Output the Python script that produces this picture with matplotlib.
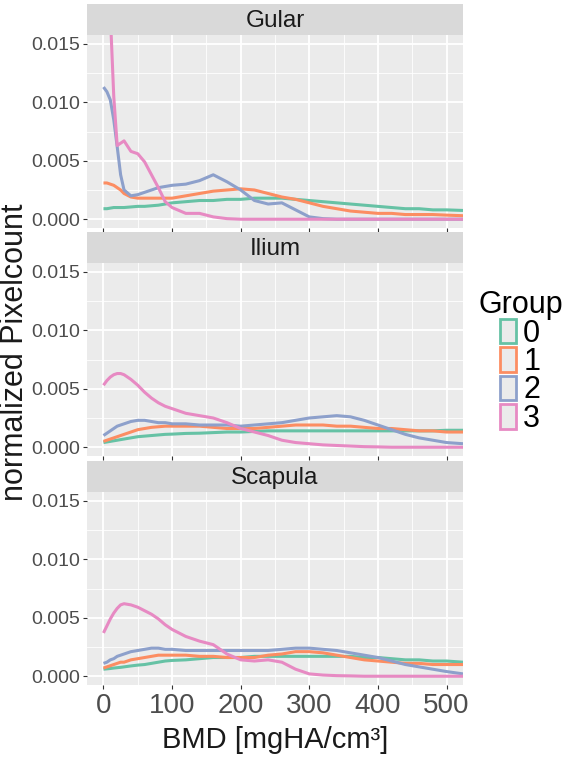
import numpy as np
import matplotlib.pyplot as plt
from matplotlib.patches import Patch

plt.rcParams['font.family'] = ['Liberation Sans', 'DejaVu Sans']

bmd = [0, 5, 10, 15, 20, 25, 30, 40, 50, 60, 70, 80, 90, 100, 120, 140, 160, 180,
       200, 220, 240, 260, 280, 300, 320, 340, 360, 380, 400, 420, 440, 460, 480, 500, 524]

bones = ['Gular', 'Ilium', 'Scapula']
groups = ['0', '1', '2', '3']
colors = ['#66C2A5', '#FC8D62', '#8DA0CB', '#E78AC3']

gular_0 = [0.0009, 0.0009, 0.00095, 0.001, 0.001, 0.001, 0.001, 0.00105, 0.0011, 0.0011, 0.00115, 0.0012,
           0.0013, 0.0014, 0.0015, 0.0016, 0.0016, 0.0017, 0.0017, 0.0018, 0.0018, 0.0018, 0.0017, 0.0016,
           0.0015, 0.0014, 0.0013, 0.0012, 0.0011, 0.001, 0.0009, 0.0009, 0.0008, 0.0008, 0.00075]
gular_1 = [0.0031, 0.0031, 0.003, 0.0029, 0.0027, 0.0025, 0.0022, 0.0019, 0.0018, 0.0018, 0.0018, 0.0018,
           0.0018, 0.0018, 0.002, 0.0022, 0.0024, 0.0025, 0.0026, 0.0025, 0.0022, 0.0019, 0.0017, 0.0014,
           0.0011, 0.0009, 0.0007, 0.0006, 0.0005, 0.0005, 0.0004, 0.0004, 0.0004, 0.00035, 0.0003]
gular_2 = [0.0113, 0.0109, 0.0102, 0.0085, 0.0062, 0.0038, 0.0025, 0.002, 0.0021, 0.0023, 0.0025, 0.0027,
           0.0028, 0.0029, 0.003, 0.0033, 0.0038, 0.0032, 0.0025, 0.0016, 0.0013, 0.0014, 0.0008, 0.0002,
           0.00005, 0.0, 0.0, 0.0, 0.0, 0.0, 0.0, 0.0, 0.0, 0.0, 0.0]
gular_3 = [0.030, 0.024, 0.0175, 0.0105, 0.0063, 0.0065, 0.0067, 0.0058, 0.0056, 0.0049, 0.0038, 0.0027,
           0.0015, 0.001, 0.0005, 0.0005, 0.0002, 0.00005, 0.0, 0.0, 0.0, 0.0, 0.0, 0.0,
           0.0, 0.0, 0.0, 0.0, 0.0, 0.0, 0.0, 0.0, 0.0, 0.0, 0.0]

ilium_0 = [0.0004, 0.00045, 0.0005, 0.00055, 0.0006, 0.00065, 0.0007, 0.0008, 0.0009, 0.00095, 0.001, 0.00105,
           0.0011, 0.00112, 0.00118, 0.0012, 0.00125, 0.0013, 0.0013, 0.00135, 0.0014, 0.0014, 0.0014, 0.0014,
           0.0014, 0.0014, 0.0014, 0.0014, 0.0014, 0.0014, 0.0014, 0.0014, 0.0014, 0.00145, 0.00145]
ilium_1 = [0.0005, 0.0006, 0.0007, 0.0008, 0.0009, 0.001, 0.0011, 0.0013, 0.0015, 0.0016, 0.0017, 0.00175,
           0.0018, 0.0018, 0.0018, 0.0018, 0.0017, 0.0016, 0.0016, 0.0016, 0.0017, 0.0018, 0.0019, 0.0019,
           0.0019, 0.0018, 0.0018, 0.0017, 0.0016, 0.0016, 0.0015, 0.0014, 0.0014, 0.0013, 0.0013]
ilium_2 = [0.001, 0.0012, 0.0014, 0.0016, 0.0018, 0.0019, 0.002, 0.0022, 0.0023, 0.0023, 0.0022, 0.0021,
           0.0021, 0.002, 0.002, 0.0019, 0.0019, 0.0019, 0.0018, 0.0019, 0.002, 0.0021, 0.0023, 0.0025,
           0.0026, 0.0027, 0.0026, 0.0023, 0.0019, 0.0015, 0.0011, 0.0008, 0.0006, 0.0004, 0.0003]
ilium_3 = [0.0053, 0.0057, 0.006, 0.0062, 0.0063, 0.0063, 0.0062, 0.0058, 0.0053, 0.0047, 0.0042, 0.0038,
           0.0035, 0.0033, 0.0029, 0.0027, 0.0025, 0.0021, 0.0016, 0.0013, 0.001, 0.0006, 0.0004, 0.0003,
           0.0002, 0.00015, 0.0001, 0.00005, 0.00003, 0.0, 0.0, 0.0, 0.0, 0.0, 0.0]

scapula_0 = [0.0006, 0.00063, 0.00066, 0.0007, 0.00073, 0.00076, 0.0008, 0.00088, 0.00095, 0.001, 0.0011, 0.0012,
             0.0013, 0.00135, 0.0014, 0.0015, 0.0016, 0.0016, 0.0016, 0.0017, 0.0017, 0.0017, 0.0017, 0.0017,
             0.0017, 0.0017, 0.0017, 0.0016, 0.0016, 0.0015, 0.0014, 0.0014, 0.0013, 0.0013, 0.0012]
scapula_1 = [0.0007, 0.0008, 0.0009, 0.001, 0.0011, 0.0012, 0.0012, 0.0014, 0.0015, 0.0016, 0.0017, 0.0018,
             0.0018, 0.0018, 0.0018, 0.0017, 0.0017, 0.0016, 0.0016, 0.0016, 0.0018, 0.0019, 0.0021, 0.0021,
             0.002, 0.0018, 0.0016, 0.0014, 0.0013, 0.0012, 0.0011, 0.0011, 0.001, 0.001, 0.001]
scapula_2 = [0.0011, 0.0012, 0.0014, 0.0015, 0.0017, 0.0018, 0.0019, 0.0021, 0.0022, 0.0023, 0.0024, 0.0024,
             0.0023, 0.0023, 0.0022, 0.0022, 0.0022, 0.0022, 0.0022, 0.0022, 0.0022, 0.0023, 0.0024, 0.0024,
             0.0023, 0.0022, 0.002, 0.0018, 0.0016, 0.0013, 0.001, 0.0008, 0.0006, 0.0004, 0.0002]
scapula_3 = [0.0037, 0.0043, 0.0049, 0.0054, 0.0058, 0.0061, 0.0062, 0.0061, 0.0059, 0.0056, 0.0053, 0.0049,
             0.0044, 0.004, 0.0034, 0.003, 0.0027, 0.0019, 0.0014, 0.0013, 0.0014, 0.0012, 0.0006, 0.0002,
             0.0001, 0.00005, 0.00003, 0.0, 0.0, 0.0, 0.0, 0.0, 0.0, 0.0, 0.0]

curves = {
    'Gular': [gular_0, gular_1, gular_2, gular_3],
    'Ilium': [ilium_0, ilium_1, ilium_2, ilium_3],
    'Scapula': [scapula_0, scapula_1, scapula_2, scapula_3],
}

W, H = 567, 757
fig = plt.figure(figsize=(W / 100, H / 100), dpi=100)

left, right = 87, 463
panel_tops = [35, 263, 492]
panel_h = 193
strip_h = 31

for i, bone in enumerate(bones):
    top = panel_tops[i]
    ax = fig.add_axes([left / W, 1 - (top + panel_h) / H, (right - left) / W, panel_h / H])
    ax.set_facecolor('#EBEBEB')
    for s in ax.spines.values():
        s.set_visible(False)
    for g, col in enumerate(colors):
        ax.plot(bmd, curves[bone][g], color=col, lw=2.2, solid_capstyle='butt')
    ax.set_xlim(-24, 524)
    ax.set_ylim(-0.00075, 0.01575)
    ax.set_xticks([0, 100, 200, 300, 400, 500])
    ax.set_xticks([50, 150, 250, 350, 450], minor=True)
    ax.set_yticks([0, 0.005, 0.010, 0.015])
    ax.set_yticks([0.0025, 0.0075, 0.0125], minor=True)
    ax.set_yticklabels(['0.000', '0.005', '0.010', '0.015'])
    ax.grid(which='major', color='white', lw=1.3)
    ax.grid(which='minor', color='white', lw=0.6)
    ax.set_axisbelow(True)
    ax.tick_params(which='major', length=3, width=0.8, color='#333333',
                   labelcolor='#4D4D4D', labelsize=14, pad=2)
    ax.tick_params(which='minor', length=0)
    if i < 2:
        ax.tick_params(axis='x', labelbottom=False)
    else:
        ax.tick_params(axis='x', labelsize=20, pad=3)

    sax = fig.add_axes([left / W, 1 - top / H, (right - left) / W, strip_h / H])
    sax.set_facecolor('#D9D9D9')
    sax.set_xticks([])
    sax.set_yticks([])
    for s in sax.spines.values():
        s.set_visible(False)
    sax.text(0.5, 0.45, bone, ha='center', va='center', fontsize=17.5, color='#1A1A1A',
             transform=sax.transAxes)

fig.text(275 / W, 1 - 740 / H, 'BMD [mgHA/cm³]', ha='center', va='center', fontsize=21, color='#1A1A1A')
fig.text(15 / W, 1 - 352 / H, 'normalized Pixelcount', ha='center', va='center', rotation=90,
         fontsize=22, color='#1A1A1A')

handles = [Patch(facecolor='#EBEBEB', edgecolor=c, lw=2) for c in colors]
fig.legend(handles, groups, title='Group', loc='center left', bbox_to_anchor=(478 / W, 1 - 362 / H),
           frameon=False, fontsize=22, title_fontsize=22, handlelength=0.5, handleheight=0.85,
           handletextpad=0.25, labelspacing=-0.05, borderpad=0, borderaxespad=0)

fig.savefig('out.png', dpi=100)
